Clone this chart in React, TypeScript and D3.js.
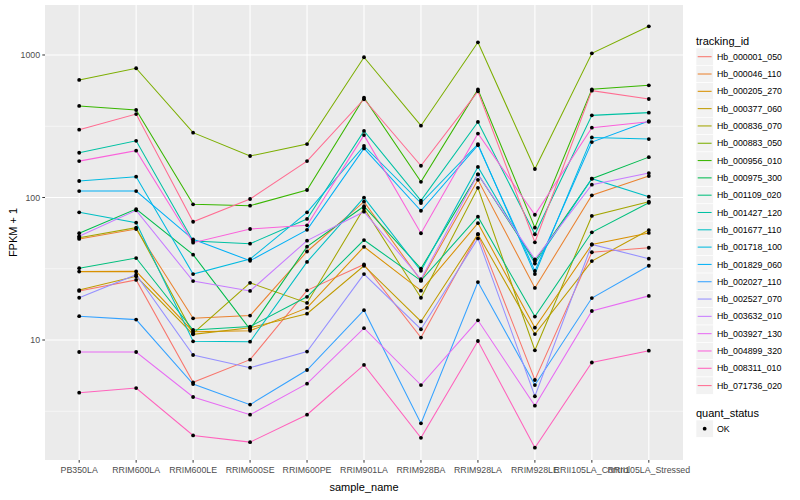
import React from "react";
import * as d3 from "d3";

const categories = [
  "PB350LA", "RRIM600LA", "RRIM600LE", "RRIM600SE", "RRIM600PE", "RRIM901LA",
  "RRIM928BA", "RRIM928LA", "RRIM928LE", "RRII105LA_Control", "RRII105LA_Stressed",
];

const trackingIds = [
  "Hb_000001_050", "Hb_000046_110", "Hb_000205_270", "Hb_000377_060", "Hb_000836_070",
  "Hb_000883_050", "Hb_000956_010", "Hb_000975_300", "Hb_001109_020", "Hb_001427_120",
  "Hb_001677_110", "Hb_001718_100", "Hb_001829_060", "Hb_002027_110", "Hb_002527_070",
  "Hb_003632_010", "Hb_003927_130", "Hb_004899_320", "Hb_008311_010", "Hb_071736_020",
];

const palette = [
  "#F8766D", "#EA8331", "#D89000", "#C09B00", "#A3A500", "#7CAE00", "#39B600",
  "#00BB4E", "#00BF7D", "#00C1A3", "#00BFC4", "#00BAE0", "#00B0F6", "#35A2FF",
  "#9590FF", "#C77CFF", "#E76BF3", "#FA62DB", "#FF62BC", "#FF6C91",
];

// FPKM + 1 per sample, in category order
const hb000001_050 = [22.1, 26.4, 5.05, 7.28, 22.3, 33.9, 10.4, 55.3, 5.24, 41.3, 44.4];
const hb000046_110 = [51.2, 60.1, 14.2, 14.85, 41.8, 93.4, 26.1, 133, 23.2, 103.6, 141.5];
const hb000205_270 = [30.2, 30.3, 11.44, 11.6, 16.8, 45.1, 22.2, 66.0, 12.2, 46.8, 56.4];
const hb000377_060 = [22.4, 28.0, 10.96, 12.2, 15.3, 33.2, 13.5, 55.3, 11.0, 35.8, 59.1];
const hb000836_070 = [52.2, 61.4, 11.14, 25.2, 18.2, 84.0, 19.8, 117, 8.47, 74.2, 93.4];
const hb000883_050 = [668, 807, 285, 195.5, 237, 964, 319, 1228, 158.5, 1028, 1590];
const hb000956_010 = [439, 411, 89.6, 87.6, 112.9, 502, 128.9, 573, 61.4, 574, 613];
const hb000975_300 = [56.1, 83.0, 39.7, 11.9, 45.2, 86.8, 31.7, 145.5, 35.8, 135.5, 192];
const hb001109_020 = [31.9, 37.6, 11.75, 12.43, 20.1, 50.3, 26.1, 73.3, 14.6, 57.0, 91.9];
const hb001427_120 = [206, 250, 49.5, 47.4, 70.7, 293, 95, 339, 55.2, 377, 394];
const hb001677_110 = [78.7, 66.6, 9.79, 9.73, 35.3, 99.7, 30.6, 164, 34.4, 135.5, 101.3];
const hb001718_100 = [130.6, 140, 29.0, 37.0, 78.7, 230, 91.5, 237, 29.0, 264, 257];
const hb001829_060 = [111, 111, 50.9, 36.0, 59.3, 221, 80.7, 233, 30.5, 245, 344];
const hb002027_110 = [14.7, 13.9, 4.91, 3.52, 6.16, 16.2, 2.6, 25.5, 4.83, 19.7, 33.2];
const hb002527_070 = [19.8, 28.7, 7.85, 6.39, 8.3, 29.0, 11.9, 51.6, 4.03, 46.8, 37.2];
const hb003632_010 = [53.4, 81.3, 25.9, 22.1, 49.8, 79.5, 26.7, 145.5, 36.8, 123, 148.5];
const hb003927_130 = [8.24, 8.24, 3.98, 2.99, 4.94, 12.1, 4.83, 13.75, 3.46, 15.98, 20.4];
const hb004899_320 = [180, 213, 48.2, 60.1, 63.8, 274, 56.1, 281, 75.7, 309, 340];
const hb008311_010 = [4.27, 4.6, 2.14, 1.92, 2.99, 6.68, 2.06, 9.84, 1.755, 6.95, 8.41];
const hb071736_020 = [299, 385, 67.6, 97.6, 180, 489, 167, 556, 48.5, 562, 491];

const seriesValues = [
  hb000001_050, hb000046_110, hb000205_270, hb000377_060, hb000836_070,
  hb000883_050, hb000956_010, hb000975_300, hb001109_020, hb001427_120,
  hb001677_110, hb001718_100, hb001829_060, hb002027_110, hb002527_070,
  hb003632_010, hb003927_130, hb004899_320, hb008311_010, hb071736_020,
];

const yMajorTicks = [10, 100, 1000];
const yMinorTicks = [Math.sqrt(10), Math.sqrt(1000), Math.sqrt(100000)];
const yDomain = [1.4386, 2243];

const FONT = "'Liberation Sans', Arial, Helvetica, sans-serif";

export default function App() {
  const W = 800;
  const H = 500;
  const pL = 45, pR = 683, pT = 5, pB = 460;

  const x = d3.scalePoint<string>().domain(categories).range([pL, pR]).padding(0.6);
  const y = d3.scaleLog().domain(yDomain).range([pB, pT]);

  const line = d3
    .line<number>()
    .x((_, i) => x(categories[i]) as number)
    .y((d) => y(d));

  const legendX = 696;
  const keySize = 17.31;
  const keyTop0 = 56.7 - keySize / 2;

  return (
    <svg
      width={W}
      height={H}
      style={{ position: "absolute", left: 0, top: 0, background: "#fff" }}
      fontFamily={FONT}
    >
      <rect x={0} y={0} width={W} height={H} fill="#fff" />
      {/* panel */}
      <rect x={pL} y={pT} width={pR - pL} height={pB - pT} fill="#EBEBEB" />
      {yMinorTicks.map((t) => (
        <line key={"mn" + t} x1={pL} x2={pR} y1={y(t)} y2={y(t)} stroke="#fff" strokeWidth={0.55} />
      ))}
      {yMajorTicks.map((t) => (
        <line key={"mj" + t} x1={pL} x2={pR} y1={y(t)} y2={y(t)} stroke="#fff" strokeWidth={1.1} />
      ))}
      {categories.map((c) => (
        <line key={"vx" + c} x1={x(c)} x2={x(c)} y1={pT} y2={pB} stroke="#fff" strokeWidth={1.1} />
      ))}

      {/* lines */}
      {seriesValues.map((vals, i) => (
        <path key={"l" + i} d={line(vals) || ""} fill="none" stroke={palette[i]} strokeWidth={1.05} />
      ))}
      {/* points */}
      {seriesValues.map((vals, i) =>
        vals.map((v, j) => (
          <circle key={"p" + i + "_" + j} cx={x(categories[j])} cy={y(v)} r={1.9} fill="#000" />
        ))
      )}

      {/* y axis */}
      {yMajorTicks.map((t) => (
        <g key={"yt" + t}>
          <line x1={pL - 2.7} x2={pL} y1={y(t)} y2={y(t)} stroke="#333" strokeWidth={1} />
          <text x={pL - 4.9} y={y(t)} dy="0.35em" textAnchor="end" fontSize={8.8} fill="#4D4D4D">
            {t}
          </text>
        </g>
      ))}
      <text
        transform={`translate(16.5, ${(pT + pB) / 2}) rotate(-90)`}
        textAnchor="middle"
        fontSize={11}
        fill="#000"
      >
        FPKM + 1
      </text>

      {/* x axis */}
      {categories.map((c) => (
        <g key={"xt" + c}>
          <line x1={x(c)} x2={x(c)} y1={pB} y2={pB + 2.7} stroke="#333" strokeWidth={1} />
          <text x={x(c)} y={pB + 12.6} textAnchor="middle" fontSize={8.8} fill="#4D4D4D">
            {c}
          </text>
        </g>
      ))}
      <text x={(pL + pR) / 2} y={491} textAnchor="middle" fontSize={11} fill="#000">
        sample_name
      </text>

      {/* legend: tracking_id */}
      <text x={legendX} y={44.5} fontSize={11} fill="#000">
        tracking_id
      </text>
      {trackingIds.map((id, i) => {
        const top = keyTop0 + i * keySize;
        const cy = top + keySize / 2;
        return (
          <g key={"lg" + id}>
            <rect x={legendX} y={top} width={keySize} height={keySize} fill="#F2F2F2" stroke="#fff" strokeWidth={0.6} />
            <line x1={legendX + 1.7} x2={legendX + keySize - 1.7} y1={cy} y2={cy} stroke={palette[i]} strokeWidth={1.05} />
            <text x={legendX + keySize + 3.6} y={cy} dy="0.35em" fontSize={8.8} fill="#000">
              {id}
            </text>
          </g>
        );
      })}

      {/* legend: quant_status */}
      <text x={legendX} y={417} fontSize={11} fill="#000">
        quant_status
      </text>
      <rect x={legendX} y={420} width={keySize} height={keySize} fill="#F2F2F2" stroke="#fff" strokeWidth={0.6} />
      <circle cx={legendX + keySize / 2} cy={420 + keySize / 2} r={1.9} fill="#000" />
      <text x={legendX + keySize + 3.6} y={420 + keySize / 2} dy="0.35em" fontSize={8.8} fill="#000">
        OK
      </text>
    </svg>
  );
}
